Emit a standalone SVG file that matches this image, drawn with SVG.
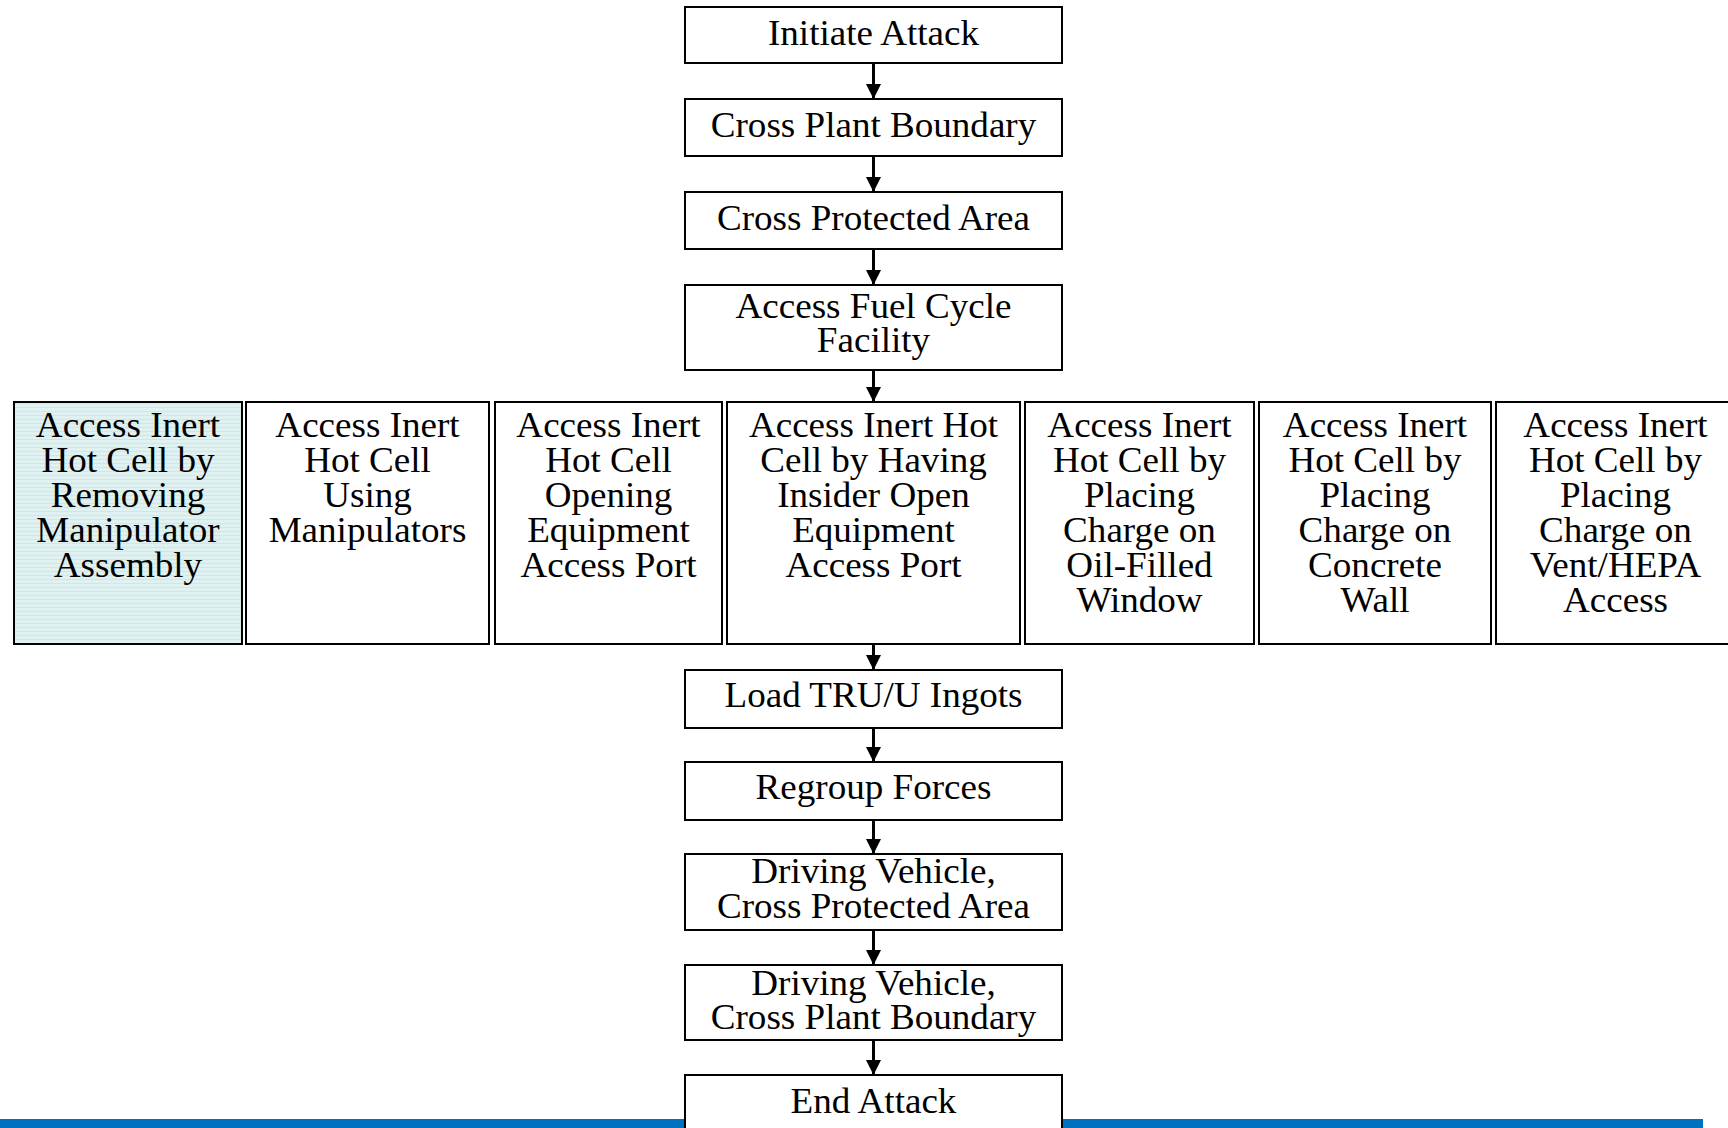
<svg xmlns="http://www.w3.org/2000/svg" width="1728" height="1128" viewBox="0 0 1728 1128">
  <style>
    .box { fill: #ffffff; stroke: #000000; stroke-width: 2; }
    .hl { fill: url(#cellTexture); stroke: #000000; stroke-width: 2; }
    .lbl { font-family: "Liberation Serif", "Times New Roman", serif; font-size: 35px; fill: #000000; text-anchor: middle; }
    .conn { stroke: #000000; stroke-width: 3; fill: none; marker-end: url(#arrow); }
  </style>
  <defs>
    <marker id="arrow" viewBox="0 0 10 10" refX="10" refY="5" markerWidth="5" markerHeight="5" markerUnits="strokeWidth" orient="auto">
      <path d="M0,0 L10,5 L0,10 z" fill="#000000"/>
    </marker>
    <pattern id="cellTexture" width="4" height="4" patternUnits="userSpaceOnUse">
      <rect width="4" height="4" fill="#dff0f1"/>
      <rect y="3" width="4" height="1" fill="#d2e6e8"/>
      <rect x="1" y="1" width="1" height="1" fill="#e9f6f6"/>
    </pattern>
  </defs>

  <!-- footer rule -->
  <rect id="footer-bar" x="0" y="1119" width="1703" height="9" fill="#0070c0"/>

  <!-- connectors -->
  <g id="connectors">
    <line class="conn" x1="873.5" y1="63" x2="873.5" y2="99"/>
    <line class="conn" x1="873.5" y1="156" x2="873.5" y2="192"/>
    <line class="conn" x1="873.5" y1="249" x2="873.5" y2="285"/>
    <line class="conn" x1="873.5" y1="370" x2="873.5" y2="402"/>
    <line class="conn" x1="873.5" y1="644" x2="873.5" y2="670"/>
    <line class="conn" x1="873.5" y1="728" x2="873.5" y2="762"/>
    <line class="conn" x1="873.5" y1="820" x2="873.5" y2="854"/>
    <line class="conn" x1="873.5" y1="930" x2="873.5" y2="965"/>
    <line class="conn" x1="873.5" y1="1040" x2="873.5" y2="1075"/>
  </g>

  <!-- main sequence -->
  <g id="initiate-attack">
    <rect class="box" x="685" y="7" width="377" height="56"/>
    <text class="lbl" transform="translate(873.5,0) scale(1.06,1)" x="0" y="45">Initiate Attack</text>
  </g>
  <g id="cross-plant-boundary">
    <rect class="box" x="685" y="99" width="377" height="57"/>
    <text class="lbl" transform="translate(873.5,0) scale(1.06,1)" x="0" y="137">Cross Plant Boundary</text>
  </g>
  <g id="cross-protected-area">
    <rect class="box" x="685" y="192" width="377" height="57"/>
    <text class="lbl" transform="translate(873.5,0) scale(1.06,1)" x="0" y="230">Cross Protected Area</text>
  </g>
  <g id="access-fuel-cycle-facility">
    <rect class="box" x="685" y="285" width="377" height="85"/>
    <text class="lbl" transform="translate(873.5,0) scale(1.06,1)" x="0" y="318">Access Fuel Cycle</text>
    <text class="lbl" transform="translate(873.5,0) scale(1.06,1)" x="0" y="352">Facility</text>
  </g>

  <!-- alternative ways into the hot cell -->
  <g id="removing-manipulator">
    <rect class="hl" x="14" y="402" width="228" height="242"/>
    <g class="lbl" transform="translate(128,0) scale(1.06,1)">
      <text x="0" y="437">Access Inert</text>
      <text x="0" y="472">Hot Cell by</text>
      <text x="0" y="507">Removing</text>
      <text x="0" y="542">Manipulator</text>
      <text x="0" y="577">Assembly</text>
    </g>
  </g>
  <g id="using-manipulators">
    <rect class="box" x="246" y="402" width="243" height="242"/>
    <g class="lbl" transform="translate(367.5,0) scale(1.06,1)">
      <text x="0" y="437">Access Inert</text>
      <text x="0" y="472">Hot Cell</text>
      <text x="0" y="507">Using</text>
      <text x="0" y="542">Manipulators</text>
    </g>
  </g>
  <g id="opening-access-port">
    <rect class="box" x="495" y="402" width="227" height="242"/>
    <g class="lbl" transform="translate(608.5,0) scale(1.06,1)">
      <text x="0" y="437">Access Inert</text>
      <text x="0" y="472">Hot Cell</text>
      <text x="0" y="507">Opening</text>
      <text x="0" y="542">Equipment</text>
      <text x="0" y="577">Access Port</text>
    </g>
  </g>
  <g id="insider-opens-port">
    <rect class="box" x="727" y="402" width="293" height="242"/>
    <g class="lbl" transform="translate(873.5,0) scale(1.06,1)">
      <text x="0" y="437">Access Inert Hot</text>
      <text x="0" y="472">Cell by Having</text>
      <text x="0" y="507">Insider Open</text>
      <text x="0" y="542">Equipment</text>
      <text x="0" y="577">Access Port</text>
    </g>
  </g>
  <g id="charge-oil-window">
    <rect class="box" x="1025" y="402" width="229" height="242"/>
    <g class="lbl" transform="translate(1139.5,0) scale(1.06,1)">
      <text x="0" y="437">Access Inert</text>
      <text x="0" y="472">Hot Cell by</text>
      <text x="0" y="507">Placing</text>
      <text x="0" y="542">Charge on</text>
      <text x="0" y="577">Oil-Filled</text>
      <text x="0" y="612">Window</text>
    </g>
  </g>
  <g id="charge-concrete-wall">
    <rect class="box" x="1259" y="402" width="232" height="242"/>
    <g class="lbl" transform="translate(1375,0) scale(1.06,1)">
      <text x="0" y="437">Access Inert</text>
      <text x="0" y="472">Hot Cell by</text>
      <text x="0" y="507">Placing</text>
      <text x="0" y="542">Charge on</text>
      <text x="0" y="577">Concrete</text>
      <text x="0" y="612">Wall</text>
    </g>
  </g>
  <g id="charge-vent-hepa">
    <rect class="box" x="1496" y="402" width="239" height="242"/>
    <g class="lbl" transform="translate(1615.5,0) scale(1.06,1)">
      <text x="0" y="437">Access Inert</text>
      <text x="0" y="472">Hot Cell by</text>
      <text x="0" y="507">Placing</text>
      <text x="0" y="542">Charge on</text>
      <text x="0" y="577">Vent/HEPA</text>
      <text x="0" y="612">Access</text>
    </g>
  </g>

  <!-- exit sequence -->
  <g id="load-ingots">
    <rect class="box" x="685" y="670" width="377" height="58"/>
    <text class="lbl" transform="translate(873.5,0) scale(1.06,1)" x="0" y="707">Load TRU/U Ingots</text>
  </g>
  <g id="regroup-forces">
    <rect class="box" x="685" y="762" width="377" height="58"/>
    <text class="lbl" transform="translate(873.5,0) scale(1.06,1)" x="0" y="799">Regroup Forces</text>
  </g>
  <g id="drive-protected-area">
    <rect class="box" x="685" y="854" width="377" height="76"/>
    <text class="lbl" transform="translate(873.5,0) scale(1.06,1)" x="0" y="883">Driving Vehicle,</text>
    <text class="lbl" transform="translate(873.5,0) scale(1.06,1)" x="0" y="918">Cross Protected Area</text>
  </g>
  <g id="drive-plant-boundary">
    <rect class="box" x="685" y="965" width="377" height="75"/>
    <text class="lbl" transform="translate(873.5,0) scale(1.06,1)" x="0" y="995">Driving Vehicle,</text>
    <text class="lbl" transform="translate(873.5,0) scale(1.06,1)" x="0" y="1029">Cross Plant Boundary</text>
  </g>
  <g id="end-attack">
    <rect class="box" x="685" y="1075" width="377" height="60"/>
    <text class="lbl" transform="translate(873.5,0) scale(1.06,1)" x="0" y="1113">End Attack</text>
  </g>
</svg>
